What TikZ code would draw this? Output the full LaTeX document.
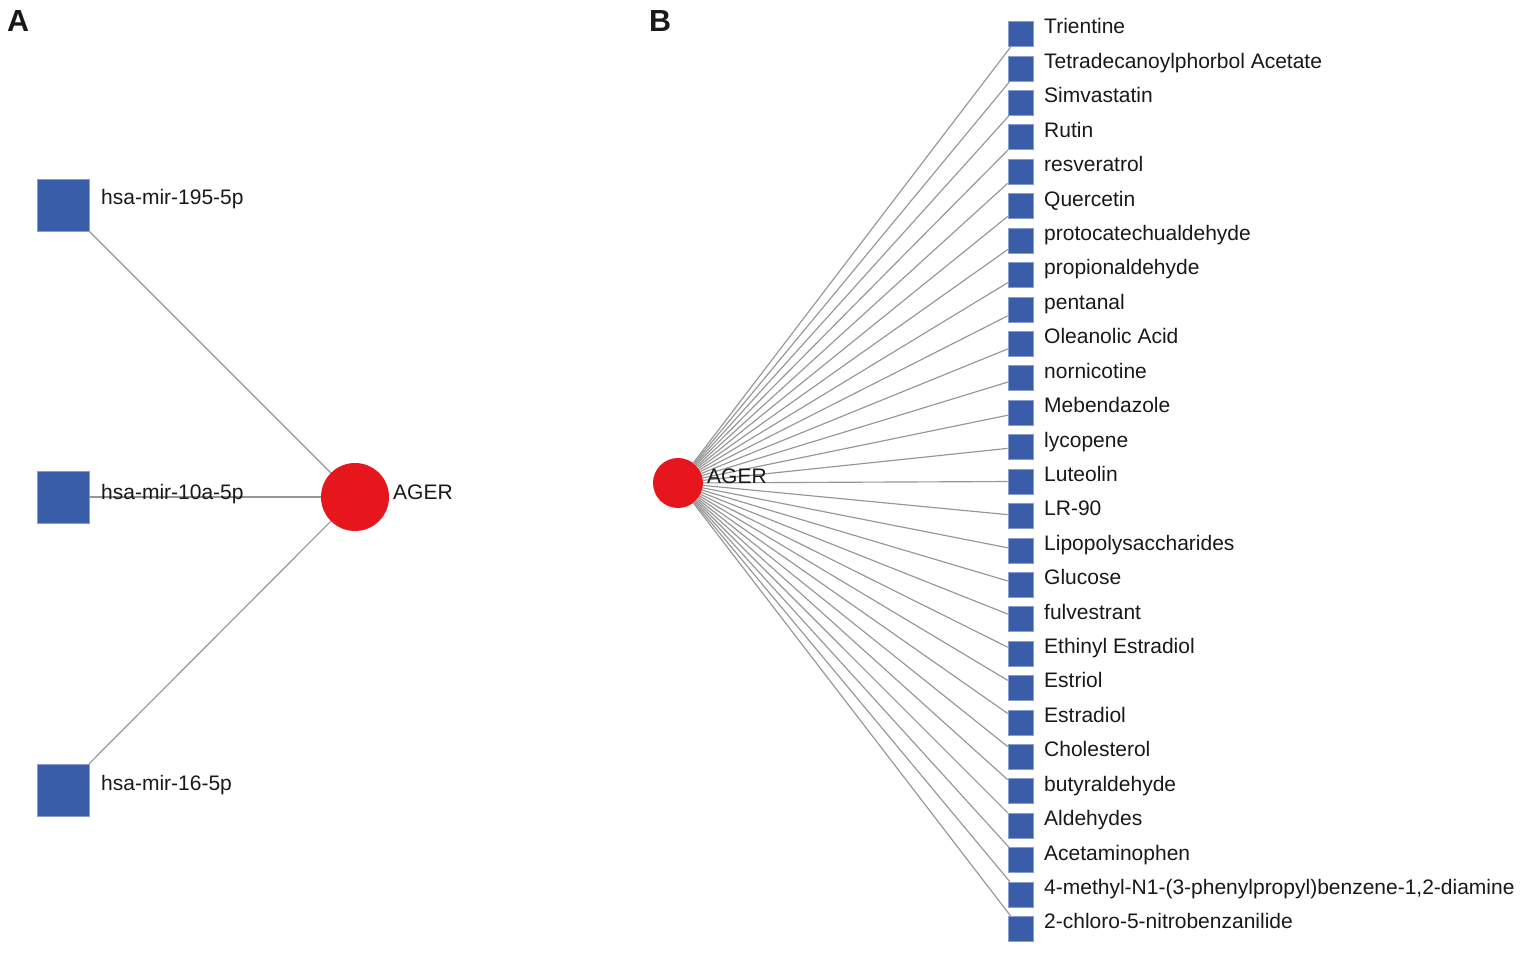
\documentclass[tikz,border=0pt]{standalone}
\usepackage{fontspec}
\setmainfont{Liberation Sans}
\definecolor{nodeblue}{RGB}{58,93,170}
\definecolor{agerred}{RGB}{230,22,28}
\definecolor{edgegray}{RGB}{150,150,150}
\definecolor{txt}{RGB}{25,25,25}
\begin{document}
\begin{tikzpicture}[x=1pt,y=-1pt,
  bigsq/.style={rectangle, fill=nodeblue, draw=nodeblue!60!white, line width=0.6pt, minimum size=52pt, inner sep=0pt},
  smallsq/.style={rectangle, fill=nodeblue, draw=nodeblue!60!white, line width=0.6pt, minimum size=25pt, inner sep=0pt},
  hubA/.style={circle, fill=agerred, inner sep=0pt, minimum size=68pt},
  hubB/.style={circle, fill=agerred, inner sep=0pt, minimum size=50pt},
  lbl/.style={anchor=base west, inner sep=0pt, text=txt, font=\fontsize{21}{24}\selectfont},
  panel/.style={anchor=base west, inner sep=0pt, text=txt, font=\fontsize{30.5}{36}\selectfont\bfseries},
  edge/.style={draw=edgegray, line width=1.15pt}]
\path[fill=white] (0,0) rectangle (1532,960);
\useasboundingbox (0,0) rectangle (1532,960);
% panel letters
\node[panel] (pA) at (7,32) {A};
\node[panel] (pB) at (649,32) {B};
% ---------- Panel A ----------
\node[hubA] (ager1) at (355,497) {};
\node[bigsq] (m1) at (63,205) {};
\node[bigsq] (m2) at (63,497) {};
\node[bigsq] (m3) at (63,790) {};
\draw[edge] (ager1) -- (m1);
\draw[edge] (ager1) -- (m2);
\draw[edge] (ager1) -- (m3);
\node[lbl] (lm1) at (101,205) {hsa-mir-195-5p};
\node[lbl] (lm2) at (101,499) {hsa-mir-10a-5p};
\node[lbl] (lm3) at (101,790) {hsa-mir-16-5p};
\node[lbl] (la1) at (393,499) {AGER};
% ---------- Panel B ----------
\node[hubB] (ager2) at (678,483) {};
\foreach \name [count=\i from 0] in {Trientine, Tetradecanoylphorbol Acetate, Simvastatin, Rutin, resveratrol, Quercetin, protocatechualdehyde, propionaldehyde, pentanal, Oleanolic Acid, nornicotine, Mebendazole, lycopene, Luteolin, LR-90, Lipopolysaccharides, Glucose, fulvestrant, Ethinyl Estradiol, Estriol, Estradiol, Cholesterol, butyraldehyde, Aldehydes, Acetaminophen, {4-methyl-N1-(3-phenylpropyl)benzene-1,2-diamine}, 2-chloro-5-nitrobenzanilide} {
  \pgfmathsetmacro\yy{34+34.42*\i}
  \node[smallsq] (d\i) at (1020.5,\yy) {};
  \draw[edge] (ager2) -- (d\i);
  \node[lbl] (t\i) at (1044,\yy) {\name};
}
\node[lbl] (la2) at (707,483) {AGER};
\end{tikzpicture}
\end{document}
